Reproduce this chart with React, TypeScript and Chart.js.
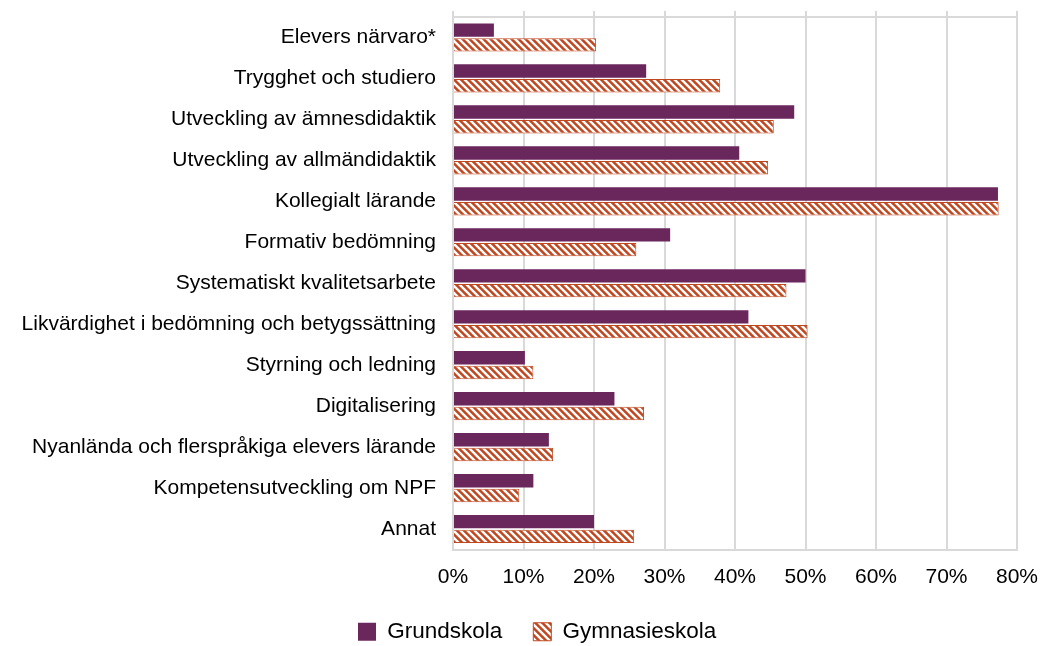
import React, { useEffect, useRef } from "react";
import { Chart, registerables } from "chart.js";

Chart.register(...registerables);

const categories = [
  "Elevers närvaro*",
  "Trygghet och studiero",
  "Utveckling av ämnesdidaktik",
  "Utveckling av allmändidaktik",
  "Kollegialt lärande",
  "Formativ bedömning",
  "Systematiskt kvalitetsarbete",
  "Likvärdighet i bedömning och betygssättning",
  "Styrning och ledning",
  "Digitalisering",
  "Nyanlända och flerspråkiga elevers lärande",
  "Kompetensutveckling om NPF",
  "Annat",
];

const grundskola = [5.8, 27.4, 48.4, 40.6, 77.3, 30.8, 50.0, 41.9, 10.2, 22.9, 13.6, 11.4, 20.0];
const gymnasieskola = [20.3, 37.9, 45.5, 44.7, 77.4, 26.0, 47.3, 50.3, 11.4, 27.1, 14.2, 9.4, 25.7];

const seriesNames = ["Grundskola", "Gymnasieskola"];
const xTicks = [0, 10, 20, 30, 40, 50, 60, 70, 80];

const PURPLE = "#6a275c";
const ORANGE = "#bf4820";
const GRID = "#d9d9d9";
const FONT = "'Liberation Sans', Arial, sans-serif";

function makeHatch(): CanvasPattern | string {
  const size = 7;
  const c = document.createElement("canvas");
  c.width = size;
  c.height = size;
  const ctx = c.getContext("2d");
  if (!ctx) return ORANGE;
  ctx.fillStyle = ORANGE;
  ctx.fillRect(0, 0, size, size);
  ctx.strokeStyle = "#ffffff";
  ctx.lineWidth = 2.4;
  ctx.beginPath();
  ctx.moveTo(-2, -2);
  ctx.lineTo(size + 2, size + 2);
  ctx.moveTo(-2, size - 2);
  ctx.lineTo(2, size + 2);
  ctx.moveTo(size - 2, -2);
  ctx.lineTo(size + 2, 2);
  ctx.stroke();
  const p = ctx.createPattern(c, "repeat");
  return p || ORANGE;
}

const legendShift = {
  id: "legendShift",
  beforeDraw(chart: any) {
    const lg = chart.legend;
    if (!lg || !lg.legendHitBoxes || !lg.legendHitBoxes.length) return;
    lg.adjustHitBoxes();
    const dx = 358 - lg.legendHitBoxes[0].left;
    if (Math.abs(dx) > 0.5) {
      lg.left += dx;
      lg.right += dx;
      lg.adjustHitBoxes();
    }
  },
};

export default function App() {
  const ref = useRef<HTMLCanvasElement>(null);

  useEffect(() => {
    document.body.style.margin = "0";
    const canvas = ref.current;
    if (!canvas) return;
    const hatch = makeHatch();
    const chart = new Chart(canvas, {
      type: "bar",
      data: {
        labels: categories,
        datasets: [
          {
            label: seriesNames[0],
            data: grundskola,
            backgroundColor: PURPLE,
            borderWidth: 0,
            categoryPercentage: 0.72,
            barPercentage: 0.91,
          },
          {
            label: seriesNames[1],
            data: gymnasieskola,
            backgroundColor: hatch as any,
            borderColor: ORANGE,
            borderWidth: 1,
            categoryPercentage: 0.72,
            barPercentage: 0.91,
          },
        ],
      },
      plugins: [legendShift],
      options: {
        indexAxis: "y",
        animation: false,
        responsive: false,
        maintainAspectRatio: false,
        layout: { padding: { left: 14, right: 25, top: 11, bottom: -7 } },
        scales: {
          x: {
            position: "bottom",
            min: 0,
            max: 80,
            afterBuildTicks: (axis: any) => {
              axis.ticks = xTicks.map((v) => ({ value: v }));
            },
            afterFit: (scale: any) => {
              scale.height = 40;
              scale.paddingLeft = 0;
              scale.paddingRight = 0;
            },
            grid: { color: GRID, lineWidth: 2, drawTicks: false },
            border: { display: true, color: GRID, width: 2 },
            ticks: {
              color: "#000000",
              font: { family: FONT, size: 21 },
              padding: 15,
              callback: (v: any) => `${v}%`,
            },
          },
          x2: {
            type: "linear",
            position: "top",
            min: 0,
            max: 80,
            afterBuildTicks: (axis: any) => {
              axis.ticks = xTicks.map((v) => ({ value: v }));
            },
            afterFit: (scale: any) => {
              scale.height = 6;
              scale.paddingLeft = 0;
              scale.paddingRight = 0;
            },
            grid: {
              color: GRID,
              lineWidth: 2,
              drawTicks: true,
              tickLength: 6,
              drawOnChartArea: false,
            },
            border: { display: true, color: GRID, width: 2 },
            ticks: { display: false },
          },
          y: {
            afterFit: (scale: any) => {
              scale.width = 439;
              scale.paddingTop = 0;
              scale.paddingBottom = 0;
            },
            grid: { display: false, drawTicks: false },
            border: { display: true, color: GRID, width: 2 },
            ticks: {
              color: "#000000",
              font: { family: FONT, size: 21 },
              padding: 17,
              autoSkip: false,
            },
          },
        },
        plugins: {
          legend: {
            position: "bottom",
            labels: {
              color: "#000000",
              font: { family: FONT, size: 22.5 },
              boxWidth: 18,
              boxHeight: 18,
              padding: 31,
            },
          },
          tooltip: { enabled: false },
        },
      },
    });
    return () => chart.destroy();
  }, []);

  return (
    <div style={{ width: 1042, height: 646 }}>
      <canvas ref={ref} width={1042} height={646} />
    </div>
  );
}
